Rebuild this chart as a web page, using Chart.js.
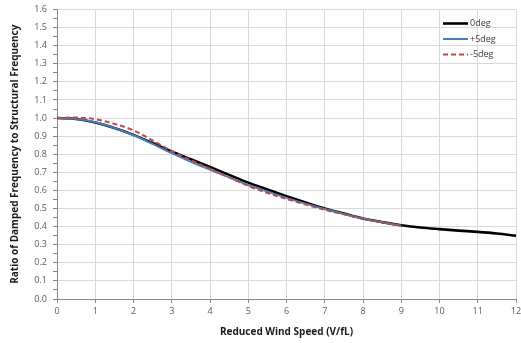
<!DOCTYPE html>
<html><head><meta charset="utf-8">
<script src="https://cdn.jsdelivr.net/npm/chart.js@4/dist/chart.umd.min.js"></script>
<style>html,body{margin:0;padding:0;background:#fff}#wrap{width:521px;height:343px}</style>
</head><body><div id="wrap"><canvas id="c" width="521" height="343"></canvas></div>
<script>
const seriesNames = ['0deg', '+5deg', '-5deg'];
const xBlack = [0,0.5,1,1.5,2,2.5,3,3.5,4,4.5,5,5.5,6,6.5,7,7.5,8,8.5,9,9.5,10,10.5,11,11.5,12];
const yBlack = [1.0,0.995,0.975,0.945,0.907,0.862,0.815,0.772,0.73,0.686,0.643,0.605,0.568,0.533,0.5,0.472,0.445,0.425,0.408,0.395,0.386,0.378,0.371,0.362,0.35];
const xBlue = [0,0.5,1,1.5,2,2.5,3,3.5,4,4.5,5,5.5,6,6.5,7,7.5,8,8.5,9];
const yBlue = [1.0,0.995,0.977,0.945,0.905,0.857,0.806,0.758,0.715,0.672,0.63,0.594,0.559,0.527,0.497,0.47,0.445,0.424,0.405];
const xRed = [0,0.5,1,1.5,2,2.5,3,3.5,4,4.5,5,5.5,6,6.5,7,7.5,8,8.5,9];
const yRed = [1.0,1.003,0.994,0.968,0.932,0.876,0.818,0.767,0.72,0.672,0.625,0.586,0.553,0.522,0.493,0.468,0.444,0.424,0.405];
const xTickMax = 12;
const yTickMax = 1.6;

const pts = (xs, ys) => xs.map((x, i) => ({x: x, y: ys[i]}));
const FONT = "'Open Sans', 'Noto Sans', sans-serif";

const legendPlugin = {
  id: 'inLegend',
  afterDatasetsDraw(chart) {
    const ctx = chart.ctx;
    ctx.save();
    [0, 1, 2].forEach((di, k) => {
      const ds = chart.data.datasets[di];
      const y = 23.5 + k * 15.5;
      ctx.beginPath();
      ctx.strokeStyle = ds.borderColor;
      ctx.lineWidth = ds.borderWidth;
      ctx.setLineDash(ds.borderDash || []);
      ctx.moveTo(443, y); ctx.lineTo(468, y);
      ctx.stroke();
      ctx.setLineDash([]);
      ctx.fillStyle = '#404040';
      ctx.font = '9px ' + FONT;
      ctx.textBaseline = 'middle';
      ctx.textAlign = 'left';
      ctx.fillText(ds.label, 470, y);
    });
    ctx.restore();
  }
};

new Chart(document.getElementById('c'), {
  type: 'line',
  data: {
    datasets: [
      {label: seriesNames[0], data: pts(xBlack, yBlack), borderColor: '#000000', borderWidth: 2.6, pointRadius: 0, tension: 0.4, cubicInterpolationMode: 'monotone', order: 3, fill: false},
      {label: seriesNames[1], data: pts(xBlue, yBlue), borderColor: '#4a7ebb', borderWidth: 2, pointRadius: 0, tension: 0.4, cubicInterpolationMode: 'monotone', order: 2, fill: false},
      {label: seriesNames[2], data: pts(xRed, yRed), borderColor: '#be4b48', borderWidth: 2, borderDash: [5, 3], pointRadius: 0, tension: 0.4, cubicInterpolationMode: 'monotone', order: 1, fill: false}
    ]
  },
  options: {
    responsive: false,
    animation: false,
    events: [],
    layout: {padding: {top: 9.5, right: 5, left: 0, bottom: 0}},
    plugins: {legend: {display: false}, tooltip: {enabled: false}},
    scales: {
      x: {
        type: 'linear', min: 0, max: xTickMax,
        ticks: {stepSize: 1, color: '#595959', font: {family: FONT, size: 9}, padding: 3, maxRotation: 0},
        grid: {color: '#d9d9d9', tickColor: '#868686', tickLength: 4, lineWidth: 1},
        border: {color: '#868686'},
        title: {display: true, text: 'Reduced Wind Speed (V/fL)', color: '#1a1a1a', font: {family: FONT, size: 10, weight: 'bold'}, padding: {top: 0, bottom: 5}},
        afterFit: s => { s.height = 44; s.paddingLeft = 0; s.paddingRight = 0; }
      },
      y: {
        type: 'linear', min: 0, max: yTickMax,
        ticks: {
          stepSize: 0.05, color: '#595959', font: {family: FONT, size: 9}, padding: 6, autoSkip: false,
          callback: v => (Math.round(v * 100) % 10 === 0 ? v.toFixed(1) : '')
        },
        grid: {
          color: c => (Math.round(c.tick.value * 100) % 10 === 0 ? '#d9d9d9' : 'rgba(0,0,0,0)'),
          tickColor: '#868686', tickLength: 4, lineWidth: 1
        },
        border: {color: '#868686'},
        title: {display: true, text: 'Ratio of Damped Frequency to Structural Frequency', color: '#1a1a1a', font: {family: FONT, size: 10, weight: 'bold'}, padding: {top: 9, bottom: 0}},
        afterFit: s => { s.width = 57; s.paddingTop = 0; s.paddingBottom = 0; }
      }
    }
  },
  plugins: [legendPlugin]
});
</script>
</body></html>
